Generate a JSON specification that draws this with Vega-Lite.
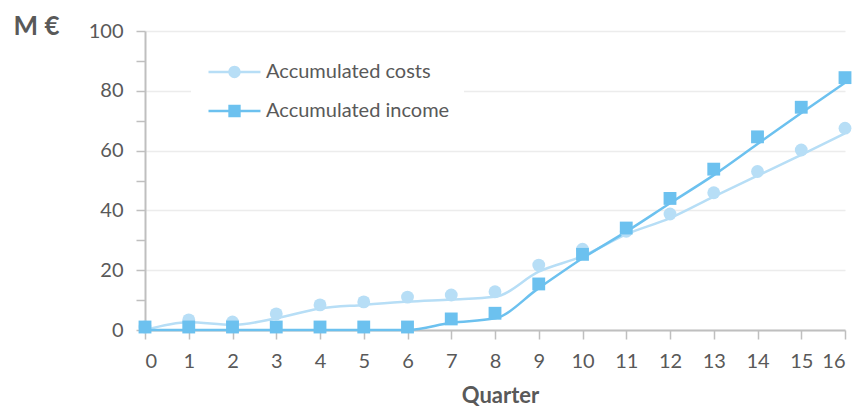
{
  "$schema": "https://vega.github.io/schema/vega-lite/v6.json",
  "width": 700,
  "height": 299,
  "autosize": {"type": "none"},
  "padding": {"left": 145, "top": 31, "right": 19, "bottom": 78},
  "background": "white",
  "config": {"font": "Lato", "view": {"stroke": null}},
  "data": {
    "values": [
      {"quarter": 0, "series": "Accumulated costs", "value": 1.0, "line": 0},
      {"quarter": 1, "series": "Accumulated costs", "value": 3.4, "line": 2.6},
      {"quarter": 2, "series": "Accumulated costs", "value": 2.7, "line": 1.7},
      {"quarter": 3, "series": "Accumulated costs", "value": 5.4, "line": 3.9},
      {"quarter": 4, "series": "Accumulated costs", "value": 8.4, "line": 7.2},
      {"quarter": 5, "series": "Accumulated costs", "value": 9.4, "line": 8.4},
      {"quarter": 6, "series": "Accumulated costs", "value": 11.0, "line": 9.5},
      {"quarter": 7, "series": "Accumulated costs", "value": 11.7, "line": 10.2},
      {"quarter": 8, "series": "Accumulated costs", "value": 12.8, "line": 11.1},
      {"quarter": 9, "series": "Accumulated costs", "value": 21.7, "line": 19.5},
      {"quarter": 10, "series": "Accumulated costs", "value": 27.0, "line": 24.7},
      {"quarter": 11, "series": "Accumulated costs", "value": 33.0, "line": 32.0},
      {"quarter": 12, "series": "Accumulated costs", "value": 38.8, "line": 37.4},
      {"quarter": 13, "series": "Accumulated costs", "value": 45.9, "line": 44.6},
      {"quarter": 14, "series": "Accumulated costs", "value": 53.0, "line": 51.6},
      {"quarter": 15, "series": "Accumulated costs", "value": 60.2, "line": 58.6},
      {"quarter": 16, "series": "Accumulated costs", "value": 67.5, "line": 65.8},
      {"quarter": 0, "series": "Accumulated income", "value": 1.0, "line": 0},
      {"quarter": 1, "series": "Accumulated income", "value": 1.0, "line": 0},
      {"quarter": 2, "series": "Accumulated income", "value": 1.0, "line": 0},
      {"quarter": 3, "series": "Accumulated income", "value": 1.0, "line": 0},
      {"quarter": 4, "series": "Accumulated income", "value": 1.0, "line": 0},
      {"quarter": 5, "series": "Accumulated income", "value": 1.0, "line": 0},
      {"quarter": 6, "series": "Accumulated income", "value": 1.0, "line": 0},
      {"quarter": 7, "series": "Accumulated income", "value": 3.7, "line": 2.4},
      {"quarter": 8, "series": "Accumulated income", "value": 5.6, "line": 3.9},
      {"quarter": 9, "series": "Accumulated income", "value": 15.4, "line": 14.0},
      {"quarter": 10, "series": "Accumulated income", "value": 25.3, "line": 24.0},
      {"quarter": 11, "series": "Accumulated income", "value": 34.1, "line": 32.9},
      {"quarter": 12, "series": "Accumulated income", "value": 44.0, "line": 42.4},
      {"quarter": 13, "series": "Accumulated income", "value": 53.8, "line": 51.8},
      {"quarter": 14, "series": "Accumulated income", "value": 64.6, "line": 62.2},
      {"quarter": 15, "series": "Accumulated income", "value": 74.5, "line": 72.6},
      {"quarter": 16, "series": "Accumulated income", "value": 84.4, "line": 82.7}
    ]
  },
  "encoding": {
    "x": {
      "field": "quarter",
      "type": "quantitative",
      "scale": {"domain": [0, 16], "nice": false, "zero": false},
      "axis": {
        "values": [0, 1, 2, 3, 4, 5, 6, 7, 8, 9, 10, 11, 12, 13, 14, 15, 16],
        "format": "d",
        "grid": false,
        "domainColor": "#bfbfbf",
        "domainWidth": 2,
        "tickColor": "#bfbfbf",
        "tickWidth": 1.5,
        "tickSize": 9,
        "labelPadding": 12,
        "labelFontSize": 20,
        "labelColor": "#595959",
        "labelFont": "Lato",
        "title": "Quarter",
        "titleFont": "Lato",
        "titleFontSize": 22,
        "titleFontWeight": "bold",
        "titleColor": "#595959",
        "titleX": 355,
        "titleY": 72,
        "titleAlign": "center",
        "titleBaseline": "alphabetic"
      }
    },
    "y": {
      "field": "value",
      "type": "quantitative",
      "scale": {"domain": [0, 100], "nice": false},
      "axis": {
        "values": [0, 10, 20, 30, 40, 50, 60, 70, 80, 90, 100],
        "labelExpr": "datum.value % 20 === 0 ? datum.label : ''",
        "grid": true,
        "gridColor": "#ececec",
        "gridWidth": 1.5,
        "gridOpacity": {"condition": {"test": "datum.value % 20 === 0", "value": 1}, "value": 0},
        "domainColor": "#bfbfbf",
        "domainWidth": 2,
        "tickColor": "#bfbfbf",
        "tickWidth": 1.5,
        "tickSize": 9,
        "labelPadding": 13,
        "labelFontSize": 20,
        "labelColor": "#595959",
        "labelFont": "Lato",
        "title": "M €",
        "titleAngle": 0,
        "titleFont": "Lato",
        "titleFontSize": 26,
        "titleFontWeight": "bold",
        "titleColor": "#595959",
        "titleX": -109,
        "titleY": -5,
        "titleAlign": "center",
        "titleBaseline": "middle"
      }
    }
  },
  "layer": [
    {
      "mark": {"type": "line", "interpolate": "monotone", "strokeWidth": 2.5},
      "encoding": {
        "color": {
          "field": "series",
          "type": "nominal",
          "scale": {"domain": ["Accumulated costs", "Accumulated income"], "range": ["#b7def6", "#6cc1ef"]},
          "legend": null
        },
        "y": {
          "field": "line",
          "type": "quantitative",
          "scale": {"domain": [0, 100], "nice": false},
          "axis": {
            "values": [0, 10, 20, 30, 40, 50, 60, 70, 80, 90, 100],
            "labelExpr": "datum.value % 20 === 0 ? datum.label : ''",
            "grid": true,
            "gridColor": "#ececec",
            "gridWidth": 1.5,
            "gridOpacity": {"condition": {"test": "datum.value % 20 === 0", "value": 1}, "value": 0},
            "domainColor": "#bfbfbf",
            "domainWidth": 2,
            "tickColor": "#bfbfbf",
            "tickWidth": 1.5,
            "tickSize": 9,
            "labelPadding": 13,
            "labelFontSize": 20,
            "labelColor": "#595959",
            "labelFont": "Lato",
            "title": "M €",
            "titleAngle": 0,
            "titleFont": "Lato",
            "titleFontSize": 26,
            "titleFontWeight": "bold",
            "titleColor": "#595959",
            "titleX": -109,
            "titleY": -5,
            "titleAlign": "center",
            "titleBaseline": "middle"
          }
        }
      }
    },
    {
      "mark": {"type": "point", "filled": true, "opacity": 1, "size": 165},
      "encoding": {
        "color": {
          "field": "series",
          "type": "nominal",
          "scale": {"domain": ["Accumulated costs", "Accumulated income"], "range": ["#b7def6", "#6cc1ef"]},
          "legend": null
        },
        "shape": {
          "field": "series",
          "type": "nominal",
          "scale": {"domain": ["Accumulated costs", "Accumulated income"], "range": ["circle", "square"]},
          "legend": null
        }
      }
    },
    {
      "transform": [{"filter": "false"}],
      "mark": {"type": "point", "filled": true, "opacity": 1, "size": 169, "color": "#b7def6"},
      "encoding": {
        "shape": {
          "field": "series",
          "type": "nominal",
          "scale": {
            "domain": ["Accumulated costs"],
            "range": ["M-1,-0.19H7V0.19H-1ZM2.05,0A0.95,0.95,0,1,1,3.95,0A0.95,0.95,0,1,1,2.05,0Z"]
          },
          "legend": {
            "orient": "none",
            "legendX": 35,
            "legendY": 6,
            "title": null,
            "padding": 25,
            "symbolSize": 169,
            "symbolFillColor": "#b7def6",
            "symbolOpacity": 1,
            "labelOffset": 41,
            "labelLimit": 400,
            "labelFontSize": 20,
            "labelFont": "Lato",
            "labelColor": "#595959"
          }
        }
      }
    },
    {
      "transform": [{"filter": "false"}],
      "mark": {"type": "point", "filled": true, "opacity": 1, "size": 169, "color": "#6cc1ef"},
      "encoding": {
        "shape": {
          "field": "series",
          "type": "nominal",
          "scale": {
            "domain": ["Accumulated income"],
            "range": ["M-1,-0.19H7V0.19H-1ZM2.05,-0.95H3.95V0.95H2.05Z"]
          },
          "legend": {
            "orient": "none",
            "legendX": 46,
            "legendY": 56,
            "title": null,
            "padding": 14,
            "fillColor": "white",
            "symbolSize": 169,
            "symbolFillColor": "#6cc1ef",
            "symbolOpacity": 1,
            "labelOffset": 41,
            "labelLimit": 400,
            "labelFontSize": 20,
            "labelFont": "Lato",
            "labelColor": "#595959"
          }
        }
      }
    }
  ],
  "resolve": {"scale": {"shape": "independent"}}
}
